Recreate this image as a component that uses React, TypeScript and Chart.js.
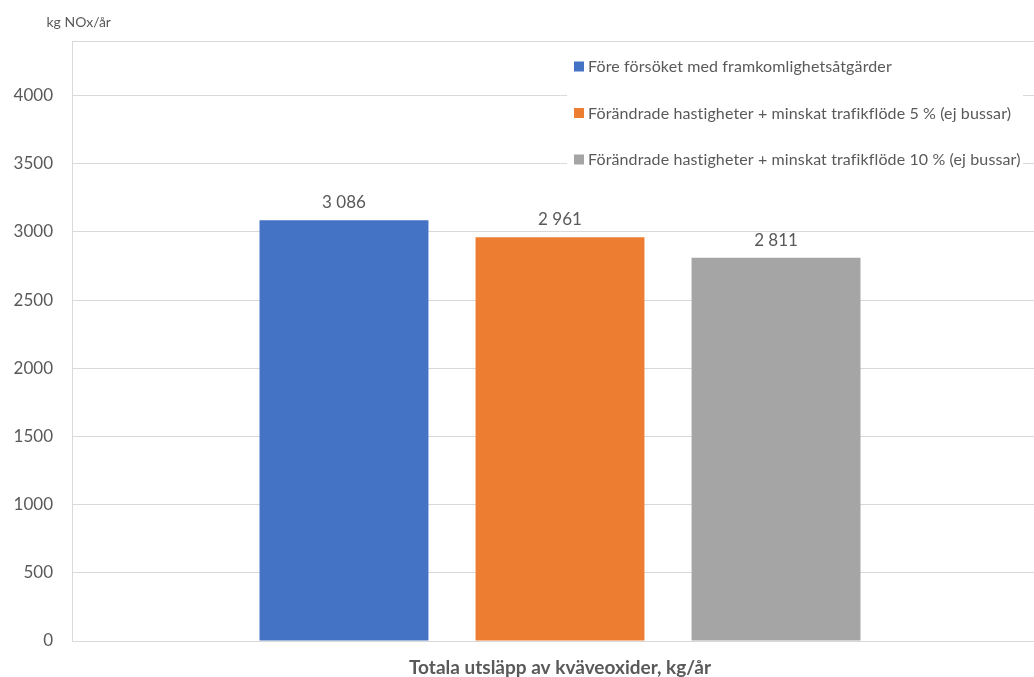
import React, { useEffect, useRef } from "react";
import { Chart, registerables } from "chart.js";

Chart.register(...registerables);

const categories = ["Totala utsläpp av kväveoxider, kg/år"];
const seriesLabels = [
  "Före försöket med framkomlighetsåtgärder",
  "Förändrade hastigheter + minskat trafikflöde 5 % (ej bussar)",
  "Förändrade hastigheter + minskat trafikflöde 10 % (ej bussar)",
];
const seriesValues = [[3086], [2961], [2811]];
const seriesColors = ["#4472C4", "#ED7D31", "#A5A5A5"];
const yAxisTitle = "kg NOx/år";
const yTicks = [0, 500, 1000, 1500, 2000, 2500, 3000, 3500, 4000];
const yMax = 4400;

const TEXT = "#595959";
const GRID = "#d9d9d9";
const FONT = "Lato, 'Open Sans', sans-serif";

function fmt(v: number): string {
  return String(v).replace(/\B(?=(\d{3})+(?!\d))/g, " ");
}

const overlayPlugin = {
  id: "overlay",
  afterDraw(chart: any) {
    const ctx = chart.ctx;
    const area = chart.chartArea;
    ctx.save();
    // value labels
    ctx.font = `17px ${FONT}`;
    ctx.fillStyle = TEXT;
    ctx.textAlign = "center";
    ctx.textBaseline = "middle";
    chart.data.datasets.forEach((ds: any, i: number) => {
      const meta = chart.getDatasetMeta(i);
      meta.data.forEach((bar: any, j: number) => {
        ctx.fillText(fmt(ds.data[j]), bar.x, bar.y - 17.5);
      });
    });
    // axis title
    ctx.font = `14px ${FONT}`;
    ctx.textAlign = "left";
    ctx.fillText(yAxisTitle, area.left - 25.5, area.top - 18.5);
    // legend
    const lx = area.left + 495;
    const ly = area.top + 7;
    ctx.fillStyle = "#ffffff";
    ctx.fillRect(lx, ly, 456, 130);
    ctx.font = `16px ${FONT}`;
    try {
      (ctx as any).letterSpacing = "0.12px";
    } catch (e) {}
    chart.data.datasets.forEach((ds: any, i: number) => {
      const cy = area.top + 25.5 + i * 46.5;
      ctx.fillStyle = ds.backgroundColor;
      ctx.fillRect(lx + 7, cy - 5, 10, 10);
      ctx.fillStyle = TEXT;
      ctx.textAlign = "left";
      ctx.textBaseline = "middle";
      ctx.fillText(ds.label, lx + 21, cy + 0.5);
    });
    ctx.restore();
  },
};

export default function App() {
  const ref = useRef<HTMLCanvasElement | null>(null);
  useEffect(() => {
    if (!ref.current) return;
    const chart = new Chart(ref.current, {
      type: "bar",
      data: {
        labels: categories,
        datasets: seriesLabels.map((label, i) => ({
          label,
          data: seriesValues[i],
          backgroundColor: seriesColors[i],
          categoryPercentage: 0.664,
          barPercentage: 0.782,
        })),
      },
      options: {
        animation: false,
        responsive: true,
        maintainAspectRatio: false,
        layout: { padding: { top: 41, left: 0, right: 0, bottom: 0 } },
        plugins: {
          legend: { display: false },
          tooltip: { enabled: false },
        },
        scales: {
          x: {
            grid: { display: false },
            border: { display: true, color: GRID },
            ticks: {
              color: TEXT,
              font: { family: FONT, size: 19, weight: "bold" },
              padding: 7,
            },
            afterFit: (s: any) => {
              s.height = 36;
            },
          },
          y: {
            min: 0,
            max: yMax,
            grid: { color: GRID, drawTicks: false },
            border: { display: true, color: GRID },
            ticks: {
              color: TEXT,
              font: { family: FONT, size: 17 },
              padding: 19,
              callback: (v: any) => (yTicks.includes(Number(v)) ? String(v) : ""),
            },
            afterBuildTicks: (s: any) => {
              s.ticks = [...yTicks, yMax].map((v) => ({ value: v }));
            },
            afterFit: (s: any) => {
              s.width = 72;
            },
          },
        },
      },
      plugins: [overlayPlugin],
    });
    return () => chart.destroy();
  }, []);
  return (
    <div style={{ position: "fixed", left: 0, top: 0, width: "100vw", height: "100vh", overflow: "hidden", background: "#fff" }}>
      <div style={{ position: "absolute", left: 0, top: 0, width: 1048, height: 677 }}>
        <canvas ref={ref} />
      </div>
    </div>
  );
}
